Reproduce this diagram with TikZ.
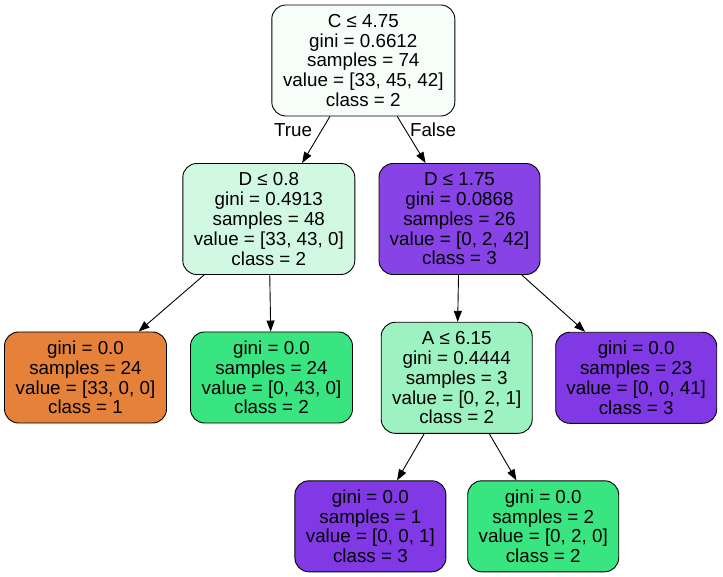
\documentclass[tikz,border=0pt]{standalone}
\usepackage{fontspec}
\setmainfont{Liberation Sans}
\usetikzlibrary{arrows.meta}
\definecolor{orangeleaf}{HTML}{E58139}
\definecolor{greenleaf}{HTML}{39E581}
\definecolor{purpleleaf}{HTML}{8139E5}
\definecolor{rootfill}{HTML}{F7FEFA}
\definecolor{lightgreen}{HTML}{D1F9E2}
\definecolor{midgreen}{HTML}{9CF2C0}
\definecolor{splitpurple}{HTML}{8743E6}

\begin{document}
\begin{tikzpicture}[x=1pt,y=-1pt,
    box/.style={draw=black,line width=0.9pt,rounded corners=14pt,align=center,
      inner sep=0pt,font=\fontsize{18.8}{19.8}\selectfont},
    split/.style={box,minimum height=111pt},
    leaf/.style={box,minimum height=91pt},
    edge/.style={line width=0.9pt,-{Triangle[length=11pt,width=8pt]}},
    lbl/.style={font=\fontsize{18.8}{19.8}\selectfont}]
    \useasboundingbox (0,0) rectangle (723,577);
    % splits
    \node[split,fill=rootfill,minimum width=183pt] (root) at (363.3,60.5)
      {C ≤ 4.75\\gini = 0.6612\\samples = 74\\value = [33, 45, 42]\\class = 2};
    \node[split,fill=lightgreen,minimum width=172pt] (dl) at (268.8,219)
      {D ≤ 0.8\\gini = 0.4913\\samples = 48\\value = [33, 43, 0]\\class = 2};
    \node[split,fill=splitpurple,minimum width=161pt] (dr) at (459.5,219)
      {D ≤ 1.75\\gini = 0.0868\\samples = 26\\value = [0, 2, 42]\\class = 3};
    \node[split,fill=midgreen,minimum width=151pt] (a) at (456.7,377.8)
      {A ≤ 6.15\\gini = 0.4444\\samples = 3\\value = [0, 2, 1]\\class = 2};
    % leaves
    \node[leaf,fill=orangeleaf,minimum width=162pt] (ll) at (85.5,377.5)
      {gini = 0.0\\samples = 24\\value = [33, 0, 0]\\class = 1};
    \node[leaf,fill=greenleaf,minimum width=162pt] (lr) at (271.5,377.5)
      {gini = 0.0\\samples = 24\\value = [0, 43, 0]\\class = 2};
    \node[leaf,fill=purpleleaf,minimum width=161pt] (rr) at (636.2,377.8)
      {gini = 0.0\\samples = 23\\value = [0, 0, 41]\\class = 3};
    \node[leaf,fill=purpleleaf,minimum width=151pt] (bl) at (370.4,526.3)
      {gini = 0.0\\samples = 1\\value = [0, 0, 1]\\class = 3};
    \node[leaf,fill=greenleaf,minimum width=151pt] (br) at (543.2,526.3)
      {gini = 0.0\\samples = 2\\value = [0, 2, 0]\\class = 2};
    % edges
    \draw[edge] (root) -- (dl);
    \draw[edge] (root) -- (dr);
    \draw[edge] (dl) -- (ll);
    \draw[edge] (dl) -- (lr);
    \draw[edge] (dr) -- (a);
    \draw[edge] (dr) -- (rr);
    \draw[edge] (a) -- (bl);
    \draw[edge] (a) -- (br);
    \node[lbl] (true) at (293,130) {True};
    \node[lbl] (false) at (433,130) {False};
\end{tikzpicture}
\end{document}
